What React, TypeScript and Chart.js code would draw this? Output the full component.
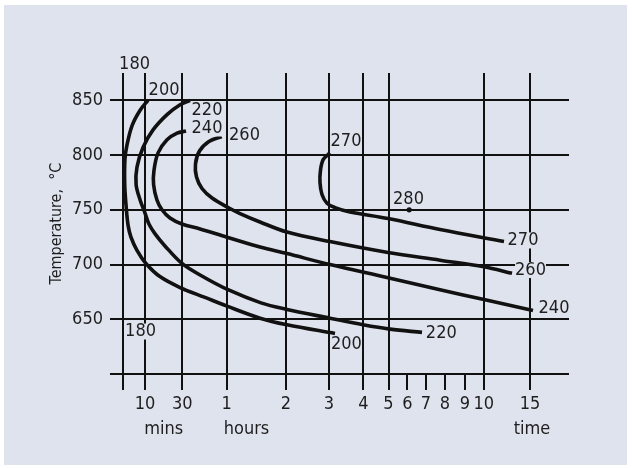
import React, { useEffect, useRef } from 'react';
import { Chart, LinearScale, registerables } from 'chart.js';

// ---------- data (time in minutes, temperature in °C) ----------
const timeTicks = [0, 10, 30, 60, 120, 180, 240, 300, 360, 420, 480, 540, 600, 900];
const timeTickLabels = ['', '10', '30', '1', '2', '3', '4', '5', '6', '7', '8', '9', '10', '15'];
const minorTimeTicks = [360, 420, 480, 540];
const tempTicks = [600, 650, 700, 750, 800, 850];

const curve200Time = [11.6, 7.8, 4.2, 1.9, 1.0, 0.9, 1.5, 2.4, 3.7, 6.4, 10.5, 18.0, 28.8, 45.3, 60.3, 93.7, 121.4, 190.5];
const curve200Temp = [850, 841, 827, 809, 796, 773, 754, 736, 725, 713, 701, 689, 679, 670, 662, 651, 645, 637];

const curve220Time = [35.2, 28.8, 21.8, 14.3, 9.1, 6.4, 6.0, 7.8, 10.0, 12.1, 15.4, 20.7, 29.8, 42.6, 61.3, 94.7, 121.4, 181.7, 239.5, 304.8, 407.2];
const curve220Temp = [850, 846, 837, 823, 807, 789, 773, 759, 747, 737, 728, 717, 701, 690, 677, 665, 659, 651, 645, 641, 638];

const curve240Time = [32.5, 27.2, 21.8, 17.0, 14.8, 14.6, 16.4, 19.1, 23.4, 29.8, 42.0, 60.3, 93.7, 121.4, 181.7, 298.8, 464.2, 601.9, 919.4];
const curve240Temp = [822, 820, 814, 802, 786, 773, 759, 750, 742.5, 737, 732.5, 725, 716, 710, 700, 688, 677, 668, 658];

const curve260Time = [56.6, 48.0, 41.6, 38.9, 39.6, 43.3, 50.1, 62.3, 73.5, 93.7, 121.4, 181.7, 298.8, 464.2, 601.9, 783.4];
const curve260Temp = [817, 812.4, 803.7, 791.9, 780, 769.5, 760.8, 751.7, 746.6, 738.9, 729.7, 721, 711, 704, 698, 692];

const curve270Time = [181.7, 172, 168.1, 167.4, 170.2, 177.2, 190.5, 216.7, 299, 464.2, 731.5];
const curve270Temp = [802, 796, 786, 775, 764, 756, 752, 748, 742, 732, 721];

const point280Time = [366];
const point280Temp = [750];

const labelTexts = ['180', '200', '220', '240', '260', '270', '280', '270', '260', '240', '220', '200', '180'];
const labelTimes = [5.3, 20.2, 46.7, 46.7, 78, 209.7, 363.9, 854.6, 903.2, 1055.5, 468.3, 210.3, 8.0];
const labelTemps = [883, 859.5, 840.8, 824.3, 818.4, 812.4, 759.9, 722, 695, 660.3, 637.3, 627, 638.8];

// ---------- styling / layout ----------
const BG = '#dfe3ee';
const LINE = '#111111';
const TEXT = '#1e1e1e';
const FONT = '"DejaVu Sans Condensed", "DejaVu Sans", sans-serif';
// positions of the (irregular) time-axis ticks, in axis units
const axisStops = [0, 22.3, 59.6, 104, 163.3, 206.3, 240.6, 265.8, 284.6, 303.3, 322.3, 342.3, 361, 407.3];

function warp(v: number): number {
  const n = timeTicks.length;
  let i = 0;
  while (i < n - 2 && v > timeTicks[i + 1]) i++;
  const t0 = timeTicks[i], t1 = timeTicks[i + 1];
  return axisStops[i] + ((v - t0) / (t1 - t0)) * (axisStops[i + 1] - axisStops[i]);
}
function unwarp(u: number): number {
  const n = axisStops.length;
  let i = 0;
  while (i < n - 2 && u > axisStops[i + 1]) i++;
  const a0 = axisStops[i], a1 = axisStops[i + 1];
  return timeTicks[i] + ((u - a0) / (a1 - a0)) * (timeTicks[i + 1] - timeTicks[i]);
}

class WarpedTimeScale extends LinearScale {
  static id = 'warpedTime';
  buildTicks() {
    return timeTicks.map((value) => ({ value }));
  }
  getPixelForValue(value: number) {
    if (value === null || value === undefined || Number.isNaN(value)) return NaN;
    const a = warp(this.min), b = warp(this.max);
    return this.getPixelForDecimal((warp(value) - a) / (b - a));
  }
  getValueForPixel(pixel: number) {
    const a = warp(this.min), b = warp(this.max);
    return unwarp(a + this.getDecimalForPixel(pixel) * (b - a));
  }
}

Chart.register(...registerables, WarpedTimeScale as any);

const pts = (t: number[], v: number[]) => t.map((x, i) => ({ x, y: v[i] }));

const curveDataset = (t: number[], v: number[]) => ({
  type: 'line' as const,
  data: pts(t, v),
  borderColor: LINE,
  borderWidth: 3.6,
  borderCapStyle: 'butt' as const,
  borderJoinStyle: 'round' as const,
  tension: 0.35,
  pointRadius: 0,
  fill: false,
});

const backgroundPlugin = {
  id: 'panelBackground',
  beforeDraw(chart: any) {
    const { ctx, width, height } = chart;
    ctx.save();
    ctx.fillStyle = '#ffffff';
    ctx.fillRect(0, 0, width, height);
    ctx.fillStyle = BG;
    ctx.fillRect(4, 5, width - 9, height - 8);
    ctx.restore();
  },
};

const labelPlugin = {
  id: 'curveLabels',
  afterDatasetsDraw(chart: any) {
    const { ctx, scales, chartArea } = chart;
    const x = scales.x, y = scales.y;
    ctx.save();
    ctx.font = `18px ${FONT}`;
    ctx.textAlign = 'center';
    ctx.textBaseline = 'middle';
    labelTexts.forEach((t, i) => {
      const px = x.getPixelForValue(labelTimes[i]);
      const py = y.getPixelForValue(labelTemps[i]);
      const w = ctx.measureText(t).width;
      ctx.fillStyle = BG;
      ctx.fillRect(px - w / 2, py - 8, w, 16);
      ctx.fillStyle = TEXT;
      ctx.fillText(t, px, py);
    });
    const capY = chartArea.bottom + 55;
    ctx.fillStyle = TEXT;
    ctx.textAlign = 'center';
    ctx.fillText('mins', (x.getPixelForValue(10) + x.getPixelForValue(30)) / 2, capY);
    ctx.textAlign = 'left';
    ctx.fillText('hours', x.getPixelForValue(60) - 3, capY);
    ctx.textAlign = 'center';
    ctx.fillText('time', x.getPixelForValue(900) + 2, capY);
    ctx.restore();
  },
};

export default function App() {
  const ref = useRef<HTMLCanvasElement | null>(null);
  useEffect(() => {
    if (!ref.current) return;
    const chart = new Chart(ref.current, {
      type: 'line',
      data: {
        datasets: [
          curveDataset(curve200Time, curve200Temp),
          curveDataset(curve220Time, curve220Temp),
          curveDataset(curve240Time, curve240Temp),
          curveDataset(curve260Time, curve260Temp),
          curveDataset(curve270Time, curve270Temp),
          {
            type: 'line' as const,
            data: pts(point280Time, point280Temp),
            showLine: false,
            pointRadius: 2.6,
            pointBackgroundColor: LINE,
            pointBorderWidth: 0,
          },
        ] as any,
      },
      options: {
        animation: false,
        responsive: true,
        maintainAspectRatio: false,
        events: [],
        layout: { padding: { left: 0, right: 63, top: 73, bottom: 0 } },
        plugins: { legend: { display: false }, tooltip: { enabled: false } },
        scales: {
          x: {
            type: 'warpedTime' as any,
            min: -5.7,
            max: 1152.7,
            border: { display: false },
            grid: {
              color: (c: any) => (c.tick && minorTimeTicks.includes(c.tick.value) ? 'rgba(0,0,0,0)' : LINE),
              tickColor: LINE,
              lineWidth: 2,
              tickWidth: 2,
              drawTicks: true,
              tickLength: 16,
            },
            ticks: {
              autoSkip: false,
              maxRotation: 0,
              padding: 4,
              color: TEXT,
              font: { family: FONT, size: 18 },
              callback: (_v: any, i: number) => timeTickLabels[i],
            },
            afterFit: (s: any) => {
              s.height = 94;
            },
          } as any,
          y: {
            type: 'linear',
            min: 600,
            max: 875,
            border: { display: false },
            grid: { color: LINE, lineWidth: 2, drawTicks: false },
            afterBuildTicks: (s: any) => {
              s.ticks = tempTicks.map((value) => ({ value }));
            },
            ticks: {
              padding: 7,
              color: TEXT,
              font: { family: FONT, size: 18 },
              callback: (v: any) => (v === 600 ? '' : String(v)),
            },
            title: {
              display: true,
              text: 'Temperature,  °C',
              color: TEXT,
              font: { family: FONT, size: 16 },
              padding: { top: 47, bottom: 0 },
            },
            afterFit: (s: any) => {
              s.width = 110;
            },
          },
        },
      },
      plugins: [backgroundPlugin, labelPlugin],
    });
    return () => chart.destroy();
  }, []);

  return (
    <div style={{ position: 'relative', width: 632, height: 468, background: '#ffffff' }}>
      <style>{'body{margin:0}'}</style>
      <div style={{ position: 'absolute', left: 0, top: 0, width: 632, height: 468 }}>
        <canvas ref={ref} />
      </div>
    </div>
  );
}
